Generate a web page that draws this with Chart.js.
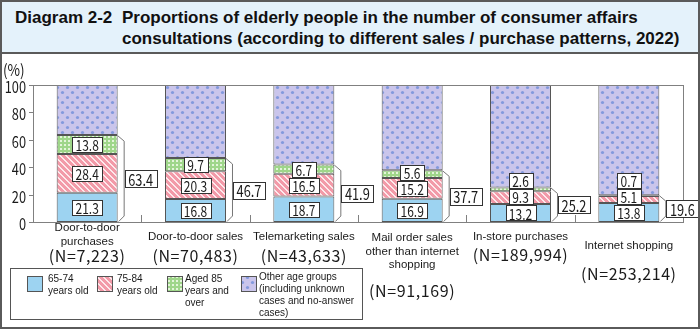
<!DOCTYPE html>
<html>
<head>
<meta charset="utf-8">
<script src="https://cdn.jsdelivr.net/npm/chart.js@4.4.1/dist/chart.umd.min.js"></script>
<style>
  html, body { margin: 0; padding: 0; background: #fff; }
  #frame {
    position: relative; width: 700px; height: 329px; box-sizing: border-box;
    border: 2px solid #5a5a5a; overflow: hidden;
    font-family: "Liberation Sans", Arial, sans-serif; color: #111;
  }
  #head {
    position: absolute; left: 0; top: 0; right: 0; height: 50px;
    background: #e4f2fb; border-bottom: 2px solid #5a5a5a;
  }
  #head span { position: absolute; top: 5px; font-weight: bold; font-size: 17px; line-height: 21px; white-space: nowrap; }
  #head .num { left: 13px; }
  #head .txt { left: 120px; }
  #chart { position: absolute; left: -2px; top: -2px; }
</style>
</head>
<body>
<div id="frame">
  <div id="head">
    <span class="num">Diagram 2-2</span>
    <span class="txt">Proportions of elderly people in the number of consumer affairs<br>consultations (according to different sales / purchase patterns, 2022)</span>
  </div>
  <canvas id="chart" width="700" height="329"></canvas>
</div>
<script>
/* ── Data ─────────────────────────────────────────────────── */
const categories = [
  ['Door-to-door', 'purchases'],
  ['Door-to-door sales'],
  ['Telemarketing sales'],
  ['Mail order sales', 'other than internet', 'shopping'],
  ['In-store purchases'],
  ['Internet shopping'],
];
const sampleSizes = ['7,223', '70,483', '43,633', '91,169', '189,994', '253,214'];

const age65to74 = [21.3, 16.8, 18.7, 16.9, 13.2, 13.8];
const age75to84 = [28.4, 20.3, 16.5, 15.2, 9.3, 5.1];
const age85plus = [13.8, 9.7, 6.7, 5.6, 2.6, 0.7];
const otherAges = [36.6, 53.3, 58.1, 62.3, 74.8, 80.4];
const elderlyTotals = [63.4, 46.7, 41.9, 37.7, 25.2, 19.6];

const yTicks = [0, 20, 40, 60, 80, 100];

const legendLabels = [
  ['65-74', 'years old'],
  ['75-84', 'years old'],
  ['Aged 85', 'years and', 'over'],
  ['Other age groups', '(including unknown', 'cases and no-answer', 'cases)'],
];

/* ── Layout (label rows under each bar, legend slots) ─────── */
const LABEL_ROWS = [
  { lines: [228, 242], n: 256 },
  { lines: [237], n: 256 },
  { lines: [237], n: 256 },
  { lines: [238, 252, 265], n: 291 },
  { lines: [237], n: 255 },
  { lines: [246], n: 274 },
];
const LEGEND_BOX = { x: 10, y: 268, w: 352, h: 51 };
const LEGEND_SLOTS = [
  { sx: 27, tx: 48, ty: 279 },
  { sx: 97, tx: 117, ty: 279 },
  { sx: 167, tx: 185, ty: 279 },
  { sx: 241, tx: 259, ty: 277 },
];

const NUM_FONT = '"Noto Sans CJK JP", "DejaVu Sans", sans-serif';
const TXT_FONT = '"Liberation Sans", Arial, sans-serif';

/* ── Fill patterns ────────────────────────────────────────── */
function makePattern(size, paint) {
  const c = document.createElement('canvas');
  c.width = c.height = size;
  paint(c.getContext('2d'), size);
  return c.getContext('2d').createPattern(c, 'repeat');
}

const FILL_BLUE = '#9dd3f1';

const FILL_PINK = makePattern(6, (g, s) => {
  for (let y = 0; y < s; y++) for (let x = 0; x < s; x++) {
    g.fillStyle = ((x - y + 60) % 6) < 2 ? '#fde9ec' : '#f29aa8';
    g.fillRect(x, y, 1, 1);
  }
});

const FILL_GREEN = makePattern(4, (g, s) => {
  g.fillStyle = '#9fd68a';
  g.fillRect(0, 0, s, s);
  g.fillStyle = '#e4f5da';
  g.fillRect(0, 0, 2, 2);
});

const FILL_PURPLE = makePattern(10, (g, s) => {
  g.fillStyle = '#cac5eb';
  g.fillRect(0, 0, s, s);
  g.fillStyle = '#8399dd';
  [[2.5, 2.5], [7.5, 7.5]].forEach(([x, y]) => {
    g.beginPath(); g.arc(x, y, 1.6, 0, Math.PI * 2); g.fill();
  });
});

const LEGEND_FILLS = [FILL_BLUE, FILL_PINK, FILL_GREEN, FILL_PURPLE];

/* ── Helpers ──────────────────────────────────────────────── */
function narrowText(ctx, text, x, y, size, weight, align, sx) {
  ctx.save();
  ctx.font = `${weight} ${size}px ${NUM_FONT}`;
  ctx.textAlign = align;
  ctx.textBaseline = 'middle';
  ctx.translate(x, y);
  ctx.scale(sx, 1);
  ctx.fillText(text, 0, 0);
  ctx.restore();
}

function narrowWidth(ctx, text, size, weight, sx) {
  ctx.save();
  ctx.font = `${weight} ${size}px ${NUM_FONT}`;
  const w = ctx.measureText(text).width * sx;
  ctx.restore();
  return w;
}

function valueBox(ctx, text, cx, cy, h, size, weight) {
  const w = Math.round(narrowWidth(ctx, text, size, weight, 0.8) + 7);
  const x = Math.round(cx - w / 2) + 0.5;
  const y = Math.round(cy - h / 2) + 0.5;
  ctx.fillStyle = '#fff';
  ctx.fillRect(x, y, w, h);
  ctx.strokeStyle = '#333';
  ctx.lineWidth = 1;
  ctx.strokeRect(x, y, w, h);
  ctx.fillStyle = '#1a1a1a';
  narrowText(ctx, text, cx, cy + 1, size, weight, 'center', 0.8);
  return y;
}

/* ── Overlay: axes, value boxes, brackets, labels, legend ─── */
const overlay = {
  id: 'overlay',
  afterDatasetsDraw(chart) {
    const { ctx, chartArea: a, scales: { x, y } } = chart;
    ctx.save();

    // plot frame
    ctx.strokeStyle = '#808080';
    ctx.lineWidth = 1;
    ctx.strokeRect(Math.round(a.left) + 0.5, Math.round(a.top) + 0.5,
      Math.round(a.right - a.left), Math.round(a.bottom - a.top));

    // y ticks and labels
    ctx.fillStyle = '#1a1a1a';
    yTicks.forEach(v => {
      const py = Math.round(y.getPixelForValue(v)) + 0.5;
      ctx.beginPath();
      ctx.moveTo(a.left - 4, py); ctx.lineTo(a.left, py); ctx.stroke();
      narrowText(ctx, String(v), a.left - 7, py + 1, 16, 'normal', 'right', 0.8);
    });
    narrowText(ctx, '(%)', 3, 70, 16, 'normal', 'left', 0.85);

    // category separators on the baseline
    for (let i = 0; i < categories.length - 1; i++) {
      const px = Math.round((x.getPixelForValue(i) + x.getPixelForValue(i + 1)) / 2) + 0.5;
      ctx.beginPath();
      ctx.moveTo(px, a.bottom - 7); ctx.lineTo(px, a.bottom); ctx.stroke();
    }

    const meta = chart.getDatasetMeta(0);
    const base = y.getPixelForValue(0);
    const series = [age65to74, age75to84, age85plus];

    categories.forEach((cat, i) => {
      const bar = meta.data[i];
      const right = bar.x + bar.width / 2;

      // bracket round the elderly share
      const yTop = y.getPixelForValue(elderlyTotals[i]);
      ctx.strokeStyle = '#777';
      ctx.beginPath();
      ctx.moveTo(right, yTop + 0.5);
      ctx.lineTo(right + 6.5, yTop + 6);
      ctx.lineTo(right + 6.5, base - 6);
      ctx.lineTo(right + 1, base - 0.5);
      ctx.stroke();

      // per-segment value boxes, pushed up if they collide
      let acc = 0;
      let prevTop = Infinity;
      series.forEach(s => {
        const v = s[i];
        const y0 = y.getPixelForValue(acc);
        const y1 = y.getPixelForValue(acc + v);
        acc += v;
        const h = 15;
        const cy = Math.min((y0 + y1) / 2, prevTop - h / 2 - 2);
        prevTop = valueBox(ctx, v.toFixed(1), bar.x, cy, h, 15, 'normal');
      });

      // total box
      valueBox(ctx, elderlyTotals[i].toFixed(1), right + 23, (base + yTop) / 2, 17, 16, 'normal');

      // category label and sample size
      const rows = LABEL_ROWS[i];
      ctx.fillStyle = '#1a1a1a';
      ctx.font = `11.5px ${TXT_FONT}`;
      ctx.textAlign = 'center';
      ctx.textBaseline = 'middle';
      cat.forEach((line, k) => ctx.fillText(line, bar.x, rows.lines[k]));
      ctx.save();
      ctx.font = `16px ${NUM_FONT}`;
      ctx.letterSpacing = '0.6px';
      ctx.fillText(`(N=${sampleSizes[i]})`, bar.x, rows.n);
      ctx.restore();
    });

    // legend
    const L = LEGEND_BOX;
    ctx.strokeStyle = '#555';
    ctx.strokeRect(L.x + 0.5, L.y + 0.5, L.w, L.h);
    legendLabels.forEach((lines, k) => {
      const s = LEGEND_SLOTS[k];
      ctx.fillStyle = LEGEND_FILLS[k];
      ctx.fillRect(s.sx, 276, 16, 16);
      ctx.strokeStyle = '#555';
      ctx.strokeRect(s.sx + 0.5, 276.5, 15, 15);
      ctx.fillStyle = '#1a1a1a';
      ctx.font = `10px ${TXT_FONT}`;
      ctx.textAlign = 'left';
      ctx.textBaseline = 'middle';
      lines.forEach((t, j) => ctx.fillText(t, s.tx, s.ty + j * 12));
    });

    ctx.restore();
  },
};

/* ── Chart ────────────────────────────────────────────────── */
const barStyle = {
  borderColor: '#555',
  borderWidth: 1,
  borderSkipped: false,
  barPercentage: 0.563,
  categoryPercentage: 1,
};

new Chart(document.getElementById('chart'), {
  type: 'bar',
  data: {
    labels: categories,
    datasets: [
      { label: '65-74 years old', data: age65to74, backgroundColor: FILL_BLUE, ...barStyle },
      { label: '75-84 years old', data: age75to84, backgroundColor: FILL_PINK, ...barStyle },
      { label: 'Aged 85 years and over', data: age85plus, backgroundColor: FILL_GREEN, ...barStyle },
      { label: 'Other age groups', data: otherAges, backgroundColor: FILL_PURPLE, ...barStyle },
    ],
  },
  options: {
    responsive: false,
    animation: false,
    devicePixelRatio: 1,
    layout: { padding: { left: 33, right: 17, top: 85, bottom: 107 } },
    plugins: { legend: { display: false }, tooltip: { enabled: false } },
    scales: {
      x: { stacked: true, display: false },
      y: { stacked: true, display: false, min: 0, max: 100 },
    },
  },
  plugins: [overlay],
});
</script>
</body>
</html>
